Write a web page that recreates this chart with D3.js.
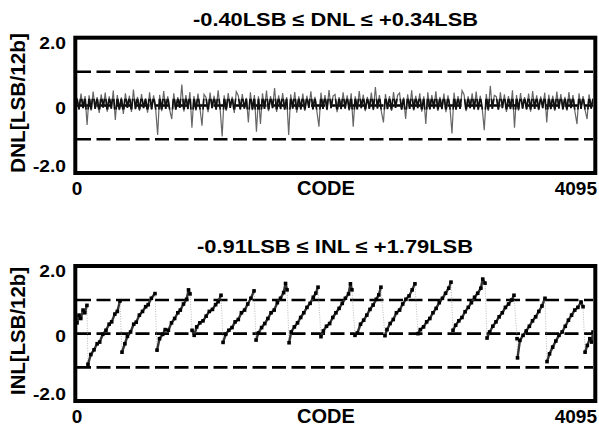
<html>
<head>
<meta charset="utf-8" />
<title>DNL / INL</title>
<script src="https://d3js.org/d3.v7.min.js"></script>
<style>
  body { margin: 0; background: white; }
  text {
    font-family: "Liberation Sans", Arial, sans-serif;
    font-weight: bold;
    fill: black;
  }
</style>
</head>
<body>
<script>
// DNL, one value per 16 codes
var dnl = [
  0.22,-0.12,0.35,-0.08,0.28,-0.58,0.30,-0.15,0.41,-0.10,0.25,-0.22,0.33,-0.06,0.38,-0.18,
  0.27,-0.09,0.44,-0.43,0.31,-0.14,0.24,-0.25,0.36,-0.07,0.29,-0.19,0.47,-0.11,0.26,-0.16,
  0.34,-0.08,0.21,-0.21,0.39,-0.12,0.30,-0.09,-0.87,0.32,-0.17,0.43,-0.10,0.27,-0.14,-0.40,
  0.36,-0.13,0.25,-0.07,0.62,-0.18,0.31,-0.11,0.40,-0.66,0.28,-0.15,0.35,-0.09,-0.60,0.33,
  0.24,-0.20,0.38,-0.08,0.29,-0.13,0.45,-0.10,-0.92,0.30,-0.16,0.37,-0.07,0.26,-0.22,0.41,
  0.29,-0.12,0.34,-0.09,0.23,-0.50,0.39,-0.14,0.31,-0.78,0.27,-0.55,0.36,-0.10,0.44,-0.17,
  0.28,-0.08,0.52,-0.19,0.30,-0.11,0.37,-0.13,0.25,-0.87,0.33,-0.09,0.40,-0.21,0.27,-0.12,
  0.35,-0.16,0.29,-0.07,0.42,-0.12,0.26,-0.18,-0.63,0.38,-0.10,0.31,-0.14,0.46,-0.08,0.28,
  0.33,-0.20,0.25,-0.11,0.39,-0.09,0.30,-0.15,0.36,-0.63,0.27,-0.12,0.43,-0.08,0.32,-0.17,
  0.26,-0.10,0.38,-0.14,0.55,-0.09,0.31,-0.19,-0.50,0.34,-0.11,0.28,-0.16,0.40,-0.07,0.30,
  0.37,-0.13,0.24,-0.40,0.33,-0.10,0.45,-0.15,0.29,-0.08,0.36,-0.18,0.27,-0.55,0.39,-0.12,
  0.31,-0.09,0.42,-0.16,0.26,-0.11,0.35,-0.20,0.30,-0.07,-0.83,0.38,-0.13,0.28,-0.10,0.44,
  0.32,-0.17,0.27,-0.08,0.36,-0.12,0.41,-0.14,0.29,-0.09,-0.73,0.34,-0.16,0.58,-0.10,0.30,
  0.26,-0.13,0.39,-0.08,0.33,-0.19,0.28,-0.11,0.45,-0.66,0.31,-0.15,0.37,-0.09,0.25,-0.12,
  0.35,-0.18,0.43,-0.10,0.30,-0.14,0.27,-0.08,0.38,-0.50,0.32,-0.11,0.29,-0.16,0.41,-0.09,
  0.34,-0.12,0.26,-0.15,0.40,-0.08,0.31,-0.19,-0.55,0.36,-0.10,0.28,-0.13,-0.40,0.33,-0.09,
  0.21
];

// INL sample points (code, value) along each sawtooth segment
var inlCode = [
  0,16,30,48,62,79,
  87,110,135,160,180,205,230,255,275,300,320,341,
  357,380,400,425,450,470,495,520,545,565,590,619,
  635,655,680,700,725,750,775,800,820,845,870,885,897,
  913,930,950,975,1000,1025,1050,1075,1100,1120,1143,
  1159,1180,1205,1230,1255,1280,1305,1330,1355,1380,1405,
  1421,1440,1465,1490,1515,1540,1565,1590,1615,1640,1655,1667,
  1683,1700,1725,1750,1775,1800,1825,1850,1875,1895,1913,
  1936,1955,1980,2005,2030,2055,2080,2105,2130,2155,2170,2182,
  2206,2225,2250,2275,2300,2325,2350,2375,2395,2412,
  2444,2460,2485,2510,2535,2560,2585,2610,2635,2660,2682,
  2706,2725,2750,2775,2800,2825,2850,2875,2900,2925,2950,2968,
  2984,3005,3030,3055,3080,3105,3130,3155,3180,3205,3220,3238,
  3254,3275,3300,3325,3350,3375,3400,3425,3450,3468,
  3492,3496,3515,3540,3565,3590,3615,3640,3665,3690,3714,
  3730,3750,3775,3800,3825,3850,3875,3900,3925,3950,3975,4000,4016,
  4032,4050,4070,4085,4095
];
var inlVal = [
  0.32,0.55,0.45,0.70,0.62,0.84,
  -0.91,-0.62,-0.48,-0.30,-0.25,-0.02,0.10,0.28,0.35,0.58,0.66,0.97,
  -0.55,-0.30,-0.08,0.05,0.28,0.34,0.55,0.66,0.80,0.86,1.05,1.19,
  -0.49,-0.15,-0.02,0.12,0.10,0.32,0.45,0.62,0.70,0.88,1.02,1.30,1.18,
  0.10,-0.05,0.20,0.32,0.38,0.52,0.66,0.72,0.86,0.95,1.14,
  -0.26,-0.02,0.10,0.18,0.35,0.42,0.62,0.70,0.88,1.05,1.27,
  -0.19,0.02,0.18,0.30,0.45,0.62,0.70,0.92,1.05,1.22,1.49,1.30,
  -0.27,0.05,0.20,0.32,0.48,0.62,0.78,0.90,1.08,1.20,1.38,
  -0.09,0.08,0.22,0.30,0.48,0.62,0.75,0.90,1.05,1.18,1.48,1.30,
  -0.05,0.02,0.28,0.40,0.55,0.72,0.85,1.02,1.15,1.38,
  -0.06,0.12,0.30,0.42,0.62,0.70,0.88,1.02,1.12,1.30,1.48,
  0.00,0.12,0.20,0.35,0.45,0.62,0.75,0.92,1.05,1.20,1.35,1.53,
  0.10,0.25,0.38,0.48,0.65,0.78,0.92,1.08,1.20,1.35,1.62,1.50,
  -0.13,0.05,0.22,0.35,0.50,0.62,0.78,0.88,1.00,1.14,
  -0.15,-0.72,-0.20,-0.05,0.08,0.22,0.38,0.50,0.66,0.82,1.05,
  -0.83,-0.60,-0.40,-0.22,-0.05,0.05,0.22,0.40,0.55,0.70,0.78,0.94,0.80,
  -0.55,-0.35,-0.15,-0.25,0.05
];

var yTicks = [2, 0, -2];
var yTickLabels = ["2.0", "0", "-2.0"];
var refLines = [1, 0, -1];
var titles = ["-0.40LSB \u2264 DNL \u2264 +0.34LSB", "-0.91LSB \u2264 INL \u2264 +1.79LSB"];
var yLabels = ["DNL[LSB/12b]", "INL[LSB/12b]"];

var width = 599, height = 429;

var svg = d3.select("body").append("svg")
    .attr("width", width)
    .attr("height", height);

var x = d3.scaleLinear().domain([0, 4095]).range([77, 593]);

var panels = [
  {top: 37.7, bottom: 173, titleX: 193, titleY: 26, titleW: 285, labelY: 103, labelW: 140, codeY: 195},
  {top: 266, bottom: 401, titleX: 197, titleY: 253, titleW: 276, labelY: 331, labelW: 128, codeY: 423}
];

var defs = svg.append("defs");

panels.forEach(function(p, k) {
  var y = d3.scaleLinear().domain([-2, 2]).range([p.bottom, p.top + 0.3]);
  var g = svg.append("g");

  defs.append("clipPath").attr("id", "plot" + k)
    .append("rect")
      .attr("x", 77).attr("y", p.top + 1)
      .attr("width", 516).attr("height", p.bottom - p.top - 2);

  // dashed reference lines
  g.selectAll(".ref")
    .data(refLines)
    .enter().append("line")
      .attr("x1", x(0)).attr("x2", x(4095))
      .attr("y1", function(d) { return y(d); })
      .attr("y2", function(d) { return y(d); })
      .attr("stroke", "#000")
      .attr("stroke-width", 2.6)
      .attr("stroke-dasharray", "14,5.5");

  var data = g.append("g").attr("clip-path", "url(#plot" + k + ")");

  if (k == 0) {
    var line = d3.line()
      .x(function(d, i) { return x(Math.min(i * 16, 4095)); })
      .y(function(d) { return y(d); });

    data.append("path")
      .datum(dnl)
      .attr("d", line)
      .attr("fill", "none")
      .attr("stroke", "#666")
      .attr("stroke-width", 1.2);

    // dense dark band around zero
    defs.append("clipPath").attr("id", "core")
      .append("rect")
        .attr("x", 77).attr("y", y(0.2))
        .attr("width", 516).attr("height", y(-0.12) - y(0.2));

    data.append("path")
      .datum(dnl)
      .attr("d", line)
      .attr("clip-path", "url(#core)")
      .attr("fill", "none")
      .attr("stroke", "#111")
      .attr("stroke-width", 1.7);
  } else {
    var pts = inlCode.map(function(c, i) { return [c, inlVal[i]]; });
    var pairs = d3.pairs(pts);

    data.selectAll(".seg")
      .data(pairs)
      .enter().append("line")
        .attr("x1", function(d) { return x(d[0][0]); })
        .attr("y1", function(d) { return y(d[0][1]); })
        .attr("x2", function(d) { return x(d[1][0]); })
        .attr("y2", function(d) { return y(d[1][1]); })
        .attr("stroke", function(d) { return d[1][1] < d[0][1] - 0.35 ? "#999" : "#333"; })
        .attr("stroke-width", function(d) { return d[1][1] < d[0][1] - 0.35 ? 0.7 : 2.4; })
        .attr("stroke-dasharray", function(d) { return d[1][1] < d[0][1] - 0.35 ? "1,1.5" : null; });

    data.selectAll(".dot")
      .data(pts)
      .enter().append("rect")
        .attr("x", function(d) { return x(d[0]) - 1.8; })
        .attr("y", function(d) { return y(d[1]) - 1.8; })
        .attr("width", 3.6).attr("height", 3.6)
        .attr("fill", "#000");
  }

  // frame
  g.append("rect")
    .attr("x", 75.3).attr("y", p.top)
    .attr("width", 520).attr("height", p.bottom - p.top)
    .attr("fill", "none")
    .attr("stroke", "#000")
    .attr("stroke-width", 4);

  // y tick labels
  var dy = [10.5, 8, -1.5];
  g.selectAll(".ytick")
    .data(yTicks)
    .enter().append("text")
      .attr("x", 66)
      .attr("y", function(d, i) { return y(d) + dy[i]; })
      .attr("text-anchor", "end")
      .style("font-size", "16px")
      .text(function(d, i) { return yTickLabels[i]; })
      .attr("textLength", function() { return this.getComputedTextLength() * 1.2; })
      .attr("lengthAdjust", "spacingAndGlyphs");

  // x labels
  g.append("text")
    .attr("x", x(0)).attr("y", p.codeY)
    .attr("text-anchor", "middle")
    .style("font-size", "19px")
    .text("0");
  g.append("text")
    .attr("x", 326).attr("y", p.codeY)
    .attr("text-anchor", "middle")
    .style("font-size", "20px")
    .text("CODE");
  g.append("text")
    .attr("x", 597).attr("y", p.codeY)
    .attr("text-anchor", "end")
    .style("font-size", "19px")
    .text("4095");

  // title
  g.append("text")
    .attr("x", p.titleX).attr("y", p.titleY)
    .style("font-size", "18px")
    .attr("textLength", p.titleW)
    .attr("lengthAdjust", "spacingAndGlyphs")
    .text(titles[k]);

  // y axis label
  g.append("text")
    .attr("transform", "translate(25," + p.labelY + ")rotate(-90)")
    .attr("text-anchor", "middle")
    .style("font-size", "20px")
    .attr("textLength", p.labelW)
    .attr("lengthAdjust", "spacingAndGlyphs")
    .text(yLabels[k]);
});
</script>
</body>
</html>
